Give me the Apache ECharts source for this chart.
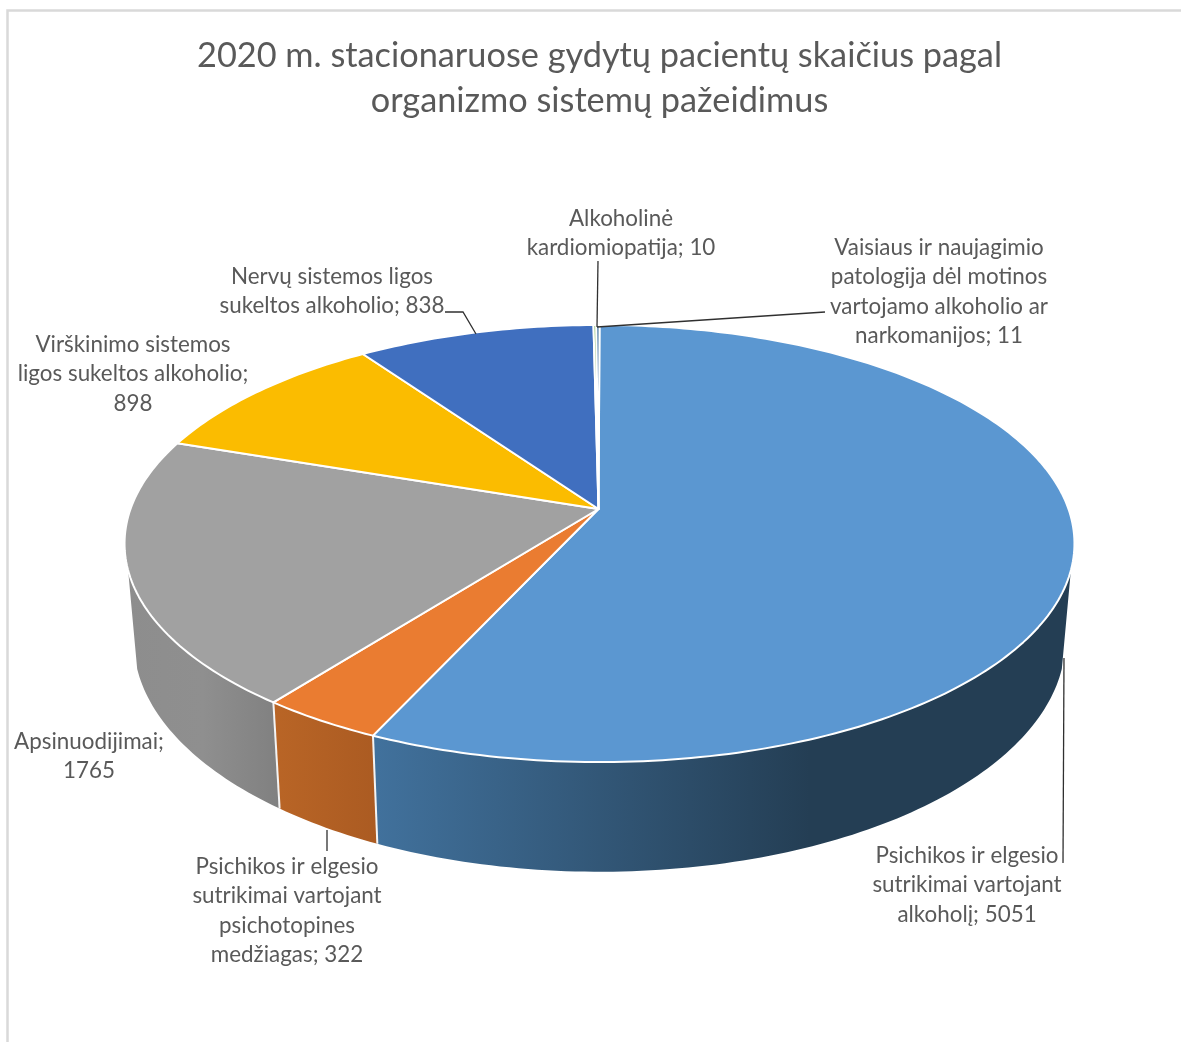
<!DOCTYPE html>
<html>
<head>
<meta charset="utf-8">
<style>html,body{margin:0;padding:0;background:#fff}#c{width:1181px;height:1042px}</style>
<script src="https://cdn.jsdelivr.net/npm/echarts@6/dist/echarts.min.js"></script>
</head>
<body>
<div id="c"></div>
<script>
var titleText = '2020 m. stacionaruose gydytų pacientų skaičius pagal\norganizmo sistemų pažeidimus';
var categories = [
  'Psichikos ir elgesio\nsutrikimai vartojant\nalkoholį',
  'Psichikos ir elgesio\nsutrikimai vartojant\npsichotopines\nmedžiagas',
  'Apsinuodijimai',
  'Virškinimo sistemos\nligos sukeltos alkoholio',
  'Nervų sistemos ligos\nsukeltos alkoholio',
  'Alkoholinė\nkardiomiopatija',
  'Vaisiaus ir naujagimio\npatologija dėl motinos\nvartojamo alkoholio ar\nnarkomanijos'
];
var values = [5051, 322, 1765, 898, 838, 10, 11];
var separators = ['; ', '; ', ';\n', ';\n', '; ', '; ', '; '];

var topColors = ['#5B97D1', '#EA7C31', '#A1A1A1', '#FBBC00', '#406FBF', '#70AD47', '#255E91'];
var FONT = 'Lato';
var TEXT = '#595959';
var labelAnchors = [[967, 841], [287, 852], [89, 727], [133, 330], [332, 262], [621, 204], [939, 233]];
var leaders = [
  [[1064, 658], [1063, 863]],
  [[327, 830], [327, 851]],
  null,
  null,
  [[445, 312], [463, 312], [476, 334]],
  [[598, 261], [597, 327]],
  [[825, 312], [597, 327]]
];

var total = values.reduce(function (a, b) { return a + b; }, 0);
var cum = [0];
values.forEach(function (v, i) { cum.push(cum[i] + v); });

var G = { cx: 599.5, k: -0.158, top: { a: 469, b: 132.7, c: 509 }, bot: { a: 460, b: 130, c: 604 } };
function proj(deg, f) {
  var t = deg * Math.PI / 180, u = Math.sin(t), v = -Math.cos(t), d = 1 + G.k * v;
  return [G.cx + f.a * u / d, (f.b * v + f.c) / d];
}
function arc(a0, a1, f) {
  var n = Math.max(2, Math.ceil(Math.abs(a1 - a0) / 1)), p = [];
  for (var i = 0; i <= n; i++) p.push(proj(a0 + (a1 - a0) * i / n, f));
  return p;
}
function grad(x0, x1, stops) {
  return { type: 'linear', global: true, x: x0, y: 0, x2: x1, y2: 0,
    colorStops: stops.map(function (s) { return { offset: s[0], color: s[1] }; }) };
}
var SIL_R = 106, SIL_L = 254;
var wallFill = {
  0: grad(377, 810, [[0, '#41719C'], [1, '#243E54']]),
  1: grad(273, 377, [[0, '#B96526'], [1, '#AB5B22']]),
  2: grad(125, 280, [[0, '#8D8D8D'], [0.5, '#8F8F8F'], [1, '#808080']])
};

function angles(i) { return [cum[i] / total * 360, cum[i + 1] / total * 360]; }

var option = {
  animation: false,
  backgroundColor: '#ffffff',
  title: {
    text: titleText, left: 594.5, top: 28, textAlign: 'center',
    textStyle: { fontFamily: FONT, fontWeight: 'normal', fontSize: 34.3, lineHeight: 45, color: TEXT }
  },
  graphic: [
    { type: 'polyline', shape: { points: [[7.5, 1042], [7.5, 10.5], [1181, 10.5]] }, style: { stroke: '#d9d9d9', lineWidth: 2.5, fill: null } }
  ],
  series: [
    { // side walls
      type: 'custom', coordinateSystem: 'none', z: 1, silent: true,
      data: values.map(function (v, i) { return [i, v]; }),
      renderItem: function (p, api) {
        var i = api.value(0), a = angles(i), a0 = a[0], a1 = a[1];
        if (i > 2) return { type: 'group', children: [] };
        if (i === 0) a0 = SIL_R;
        if (i === 2) a1 = SIL_L;
        var pts = arc(a0, a1, G.top).concat(arc(a1, a0, G.bot));
        var kids = [{ type: 'polygon', shape: { points: pts }, style: { fill: wallFill[i] } }];
        if (i === 0 || i === 1) {
          kids.push({ type: 'line', z2: 5, shape: { x1: proj(a[1], G.top)[0], y1: proj(a[1], G.top)[1], x2: proj(a[1], G.bot)[0], y2: proj(a[1], G.bot)[1] }, style: { stroke: '#f4f4f4', lineWidth: 2 } });
        }
        return { type: 'group', children: kids };
      }
    },
    { // top face
      type: 'custom', coordinateSystem: 'none', z: 2, silent: true,
      data: values.map(function (v, i) { return [i, v]; }),
      renderItem: function (p, api) {
        var i = api.value(0), a = angles(i);
        var pts = [[G.cx - 1, G.top.c]].concat(arc(a[0], a[1], G.top));
        return { type: 'polygon', shape: { points: pts }, style: { fill: topColors[i], stroke: '#ffffff', lineWidth: 2, lineJoin: 'round' } };
      }
    },
    { // data labels with leader lines
      type: 'custom', coordinateSystem: 'none', z: 3, silent: true,
      data: values.map(function (v, i) { return [i, v]; }),
      renderItem: function (p, api) {
        var i = api.value(0), kids = [];
        kids.push({
          type: 'text', x: labelAnchors[i][0], y: labelAnchors[i][1],
          style: {
            text: categories[i] + separators[i] + api.value(1),
            fontFamily: FONT, fontSize: 22.4, lineHeight: 29.5, fill: TEXT, align: 'center', verticalAlign: 'top'
          }
        });
        if (leaders[i]) kids.push({ type: 'polyline', shape: { points: leaders[i] }, style: { stroke: '#303030', lineWidth: 1.3, fill: null } });
        return { type: 'group', children: kids };
      }
    }
  ]
};
echarts.init(document.getElementById('c'), null, { renderer: 'canvas' }).setOption(option);
</script>
</body>
</html>
